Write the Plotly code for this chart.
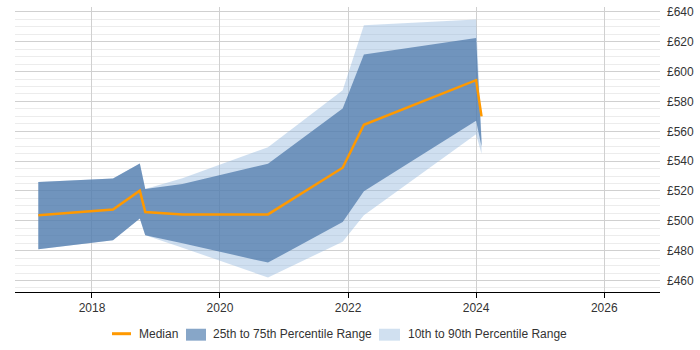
import plotly.graph_objects as go

dates = ["2017-03-01", "2018-05-01", "2018-10-01", "2018-11-01", "2019-06-01",
         "2020-10-01", "2021-12-01", "2022-04-01", "2024-01-01", "2024-02-01"]
median = [503.7, 507.6, 520.2, 505.9, 504.3, 504.3, 535.6, 564.4, 594.3, 570.0]
q75 = [526.0, 528.3, 538.5, 521.3, 524.6, 538.3, 575.3, 611.5, 622.5, 553.0]
q25 = [481.0, 487.0, 501.5, 490.4, 485.0, 472.0, 499.2, 519.8, 567.0, 550.0]
p90 = [526.0, 528.3, 538.5, 521.3, 528.5, 549.3, 587.5, 631.0, 635.0, 556.0]
p10 = [481.0, 487.0, 501.5, 490.4, 482.0, 462.0, 486.0, 503.7, 558.0, 545.0]
y_ticks = [460, 480, 500, 520, 540, 560, 580, 600, 620, 640]
legend_labels = ["Median", "25th to 75th Percentile Range", "10th to 90th Percentile Range"]

LIGHT = "rgba(149,185,222,0.45)"
DARK = "rgba(71,116,167,0.7)"
ORANGE = "#ff9900"

fig = go.Figure()
fig.add_trace(go.Scatter(x=dates, y=p10, mode="lines", line=dict(width=0),
                         showlegend=False, hoverinfo="skip"))
fig.add_trace(go.Scatter(x=dates, y=p90, mode="lines", line=dict(width=0),
                         fill="tonexty", fillcolor=LIGHT, name=legend_labels[2]))
fig.add_trace(go.Scatter(x=dates, y=q25, mode="lines", line=dict(width=0),
                         showlegend=False, hoverinfo="skip"))
fig.add_trace(go.Scatter(x=dates, y=q75, mode="lines", line=dict(width=0),
                         fill="tonexty", fillcolor=DARK, name=legend_labels[1]))
fig.add_trace(go.Scatter(x=dates, y=median, mode="lines",
                         line=dict(color=ORANGE, width=2.5), name=legend_labels[0]))

# custom legend (pixel layout converted to paper coords)
L, R, T, B = 15, 40, 5, 58
W, H = 700 - L - R, 350 - T - B


def px(x):
    return (x - L) / W


def py(y):
    return (350 - B - y) / H


shapes = [
    dict(type="line", xref="paper", yref="paper", x0=px(112), x1=px(131),
         y0=py(334), y1=py(334), line=dict(color=ORANGE, width=3)),
    dict(type="rect", xref="paper", yref="paper", x0=px(186), x1=px(206),
         y0=py(341), y1=py(329), fillcolor="#87a6c8", line=dict(width=0)),
    dict(type="rect", xref="paper", yref="paper", x0=px(379), x1=px(400),
         y0=py(341), y1=py(329), fillcolor="#d0e0f0", line=dict(width=0)),
]
annotations = []
for label, x0 in zip(legend_labels, [137, 211, 405.5]):
    annotations.append(dict(text=label, xref="paper", yref="paper", x=px(x0), y=py(334),
                            xanchor="left", yanchor="middle", showarrow=False,
                            font=dict(size=12, color="#333333")))

fig.update_layout(
    width=700, height=350,
    margin=dict(l=L, r=R, t=T, b=B),
    paper_bgcolor="white", plot_bgcolor="white",
    font=dict(family="Liberation Sans, Arial, sans-serif", size=12, color="#333333"),
    showlegend=False,
    shapes=shapes,
    annotations=annotations,
    xaxis=dict(
        type="date",
        range=["2016-10-19", "2026-11-15"],
        tick0="2018-01-01", dtick="M24", tickformat="%Y",
        showgrid=True, gridcolor="#d0d0d0", gridwidth=1,
        showline=True, linecolor="#000000", linewidth=1,
        ticks="outside", ticklen=5, tickcolor="#000000",
        zeroline=False, layer="below traces",
    ),
    yaxis=dict(
        side="right",
        range=[452.3, 643.3],
        tickvals=y_ticks, ticktext=["£%d" % v for v in y_ticks],
        showgrid=True, gridcolor="#d0d0d0", gridwidth=1,
        minor=dict(dtick=5, tick0=460, showgrid=True, gridcolor="#ececec", gridwidth=1),
        showline=False, zeroline=False, ticks="", ticklabelstandoff=6,
    ),
)

fig.write_html("out.html")
